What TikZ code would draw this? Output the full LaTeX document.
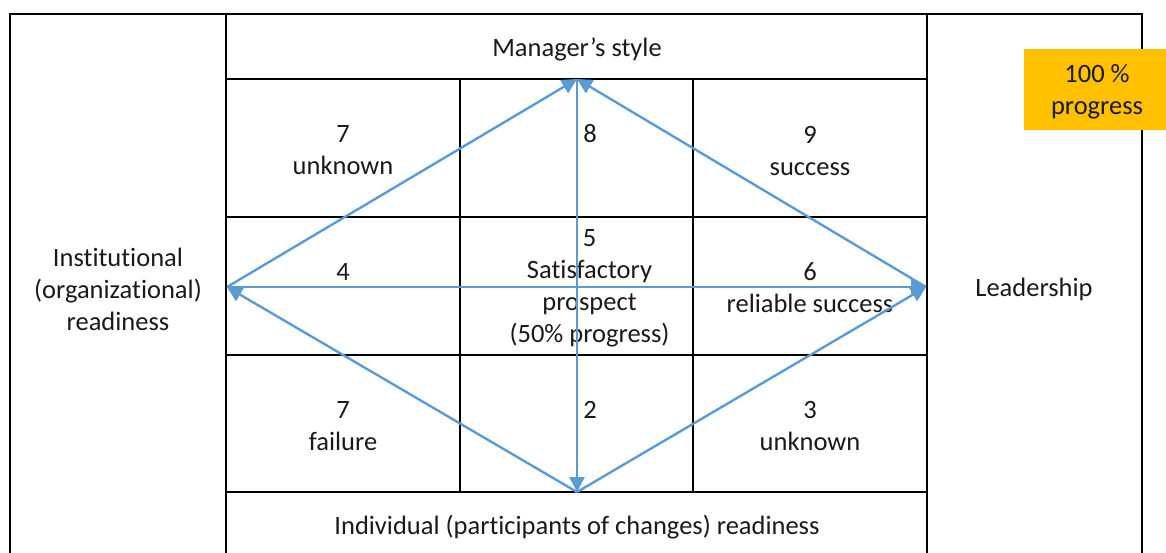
\documentclass[tikz,border=0pt]{standalone}
\usepackage{fontspec}
\setmainfont{Carlito}[Ligatures=NoCommon]
\usetikzlibrary{arrows.meta}
\definecolor{flowblue}{HTML}{5B9BD5}
\definecolor{goalorange}{HTML}{FFC000}
\definecolor{textgray}{HTML}{1A1A1A}

\begin{document}
\begin{tikzpicture}[x=1pt,y=-1pt]

	\tikzstyle table lines=[line width=1.6pt];
	\tikzstyle cell text=[align=center,inner sep=0pt,yshift=-2pt,text=textgray,font=\fontsize{26.5}{32}\selectfont];
	\tikzstyle flow lines=[flowblue,line width=2.4pt,-{Triangle[length=15pt,width=15pt]}];

	\useasboundingbox (0,0) rectangle (1166,552);
	\clip (0,0) rectangle (1166,552);

	% the table
	\draw[table lines] (10,570) -- (10,14) -- (1142,14) -- (1142,570);
	\draw[table lines] (226,570) -- (226,14);
	\draw[table lines] (927,570) -- (927,14);
	\draw[table lines] (460,79) -- (460,492);
	\draw[table lines] (693,79) -- (693,492);
	\draw[table lines] (226,79) -- (927,79);
	\draw[table lines] (226,217) -- (927,217);
	\draw[table lines] (226,355) -- (927,355);
	\draw[table lines] (226,492) -- (927,492);

	% goal
	\fill[goalorange] (1024,49) rectangle (1170,130);
	\node[cell text] (goal) at (1097,90) {100 \%\\progress};

	% headings
	\node[cell text] (style) at (577,47) {Manager’s style};
	\node[cell text] (individual) at (577,525) {Individual (participants of changes) readiness};
	\node[cell text] (institutional) at (118,287) {Institutional\\(organizational)\\readiness};
	\node[cell text] (leadership) at (1034,287) {Leadership};

	% cells
	\node[cell text] (c7u) at (343,148.5) {7\\unknown};
	\node[cell text] (c8) at (590,132) {8};
	\node[cell text] (c9) at (810,148.5) {9\\success};
	\node[cell text] (c4) at (343,270) {4};
	\node[cell text] (c5) at (589.5,286.5) {5\\Satisfactory\\prospect\\(50\% progress)};
	\node[cell text] (c6) at (810,286) {6\\reliable success};
	\node[cell text] (c7f) at (343,424) {7\\failure};
	\node[cell text] (c2) at (590,408) {2};
	\node[cell text] (c3) at (810,424) {3\\unknown};

	% diamond
	\coordinate (style pt) at (577,79);
	\coordinate (indiv pt) at (577,492);
	\coordinate (inst pt) at (227,287);
	\coordinate (lead pt) at (926,287);

	\draw[flow lines] (inst pt) -- (style pt);
	\draw[flow lines] (lead pt) -- (style pt);
	\draw[flow lines] (style pt) -- (indiv pt);
	\draw[flow lines] (inst pt) -- (lead pt);
	\draw[flow lines] (indiv pt) -- (inst pt);
	\draw[flow lines] (indiv pt) -- (lead pt);

\end{tikzpicture}
\end{document}
